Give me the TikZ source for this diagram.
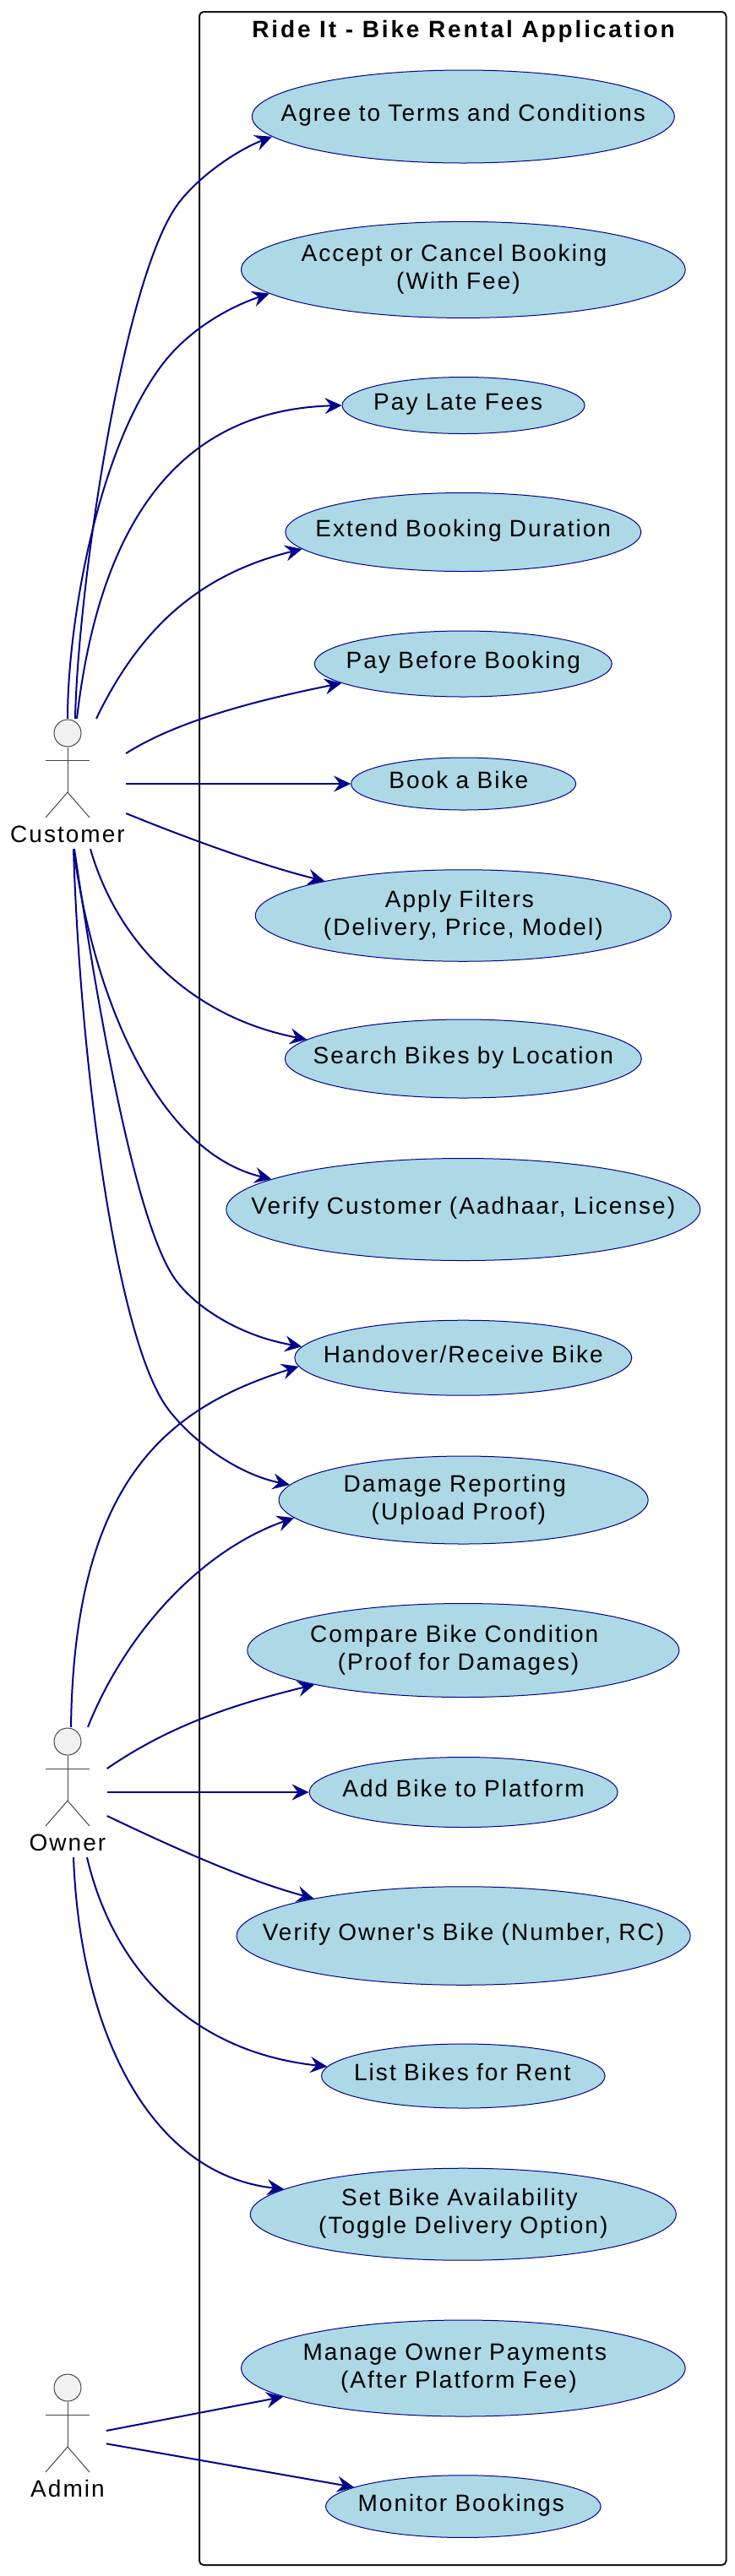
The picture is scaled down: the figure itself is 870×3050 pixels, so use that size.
\documentclass[tikz,border=0pt]{standalone}
\usepackage{fontspec}
\setmainfont[LetterSpace=7.3,Ligatures=TeXOff]{Liberation Sans}
\usepackage{xcolor}
\usetikzlibrary{arrows.meta,shapes.geometric,positioning,calc}
\definecolor{ucfill}{RGB}{173,216,230}
\definecolor{ucnavy}{RGB}{0,0,139}
\definecolor{ucframe}{RGB}{24,24,24}
\definecolor{ucactor}{RGB}{241,241,241}
\definecolor{ucstick}{RGB}{70,70,70}
\tikzset{
    usecase/.style={draw=ucnavy, fill=ucfill, ellipse, line width=1pt, inner sep=0pt,
        text height=0pt, text depth=0pt, text width=0pt},
    uclink/.style={-{Stealth[length=20pt,width=19pt,inset=7pt]}, ucnavy, line width=2pt},
    actorhead/.style={circle, draw=ucstick, fill=ucactor, line width=1pt, minimum size=32pt, inner sep=0pt},
    actorstick/.style={draw=ucstick, line width=1pt},
    actorbox/.style={minimum width=#1, minimum height=154pt, inner sep=0pt},
}
% one line of text in a use case: raise, x offset, text
\newcommand{\ucline}[3]{\makebox[0pt]{\raisebox{#1pt}{\kern#2pt #3\kern-#2pt}}}
% stick figure: name, label, head y, width of the box the links start from
\newcommand{\drawactor}[4]{
    \node[actorhead] (#1head) at (80,#3) {};
    \coordinate (#1hip) at (80,#3+70);
    \draw[actorstick] (#1head.south) -- (#1hip);
    \draw[actorstick] (54,#3+32) -- (106,#3+32);
    \draw[actorstick] (54,#3+100) -- (#1hip) -- (106,#3+100);
    \node[anchor=base, font=\fontsize{28}{33}\selectfont] (#1label) at (80,#3+129) {#2};
    \node[actorbox=#4] (#1) at (80,#3+60) {};
}
\begin{document}
\begin{tikzpicture}[x=1pt, y=-1pt, font=\fontsize{28}{33}\selectfont]
    \useasboundingbox (0,0) rectangle (870,3050);

    % System frame
    \node[draw=ucframe, line width=2pt, rounded corners=5pt, minimum width=623.5pt, minimum height=3023pt, inner sep=0pt] (system) at (547.75,1525.5) {};
    \node[anchor=base, font=\fontsize{28}{33}\selectfont\bfseries\addfontfeature{LetterSpace=10.2}] (title) at (548.5,44) {Ride It - Bike Rental Application};

    % Actors
    \drawactor{customer}{Customer}{868}{138pt}
    \drawactor{owner}{Owner}{2062}{93pt}
    \drawactor{admin}{Admin}{2827}{91pt}

    % Use cases
    \node[usecase, minimum width=500pt, minimum height=110pt] (agree) at (548.3,138) {\ucline{-5.5}{0}{Agree to Terms and Conditions}};
    \node[usecase, minimum width=525.6pt, minimum height=114pt] (accept) at (548.3,319.4) {\ucline{10}{-10.8}{Accept or Cancel Booking}\ucline{-23}{-5.8}{(With Fee)}};
    \node[usecase, minimum width=287pt, minimum height=67pt] (latefees) at (548.6,480) {\ucline{-5.5}{-6.4}{Pay Late Fees}};
    \node[usecase, minimum width=421pt, minimum height=93pt] (extend) at (548.3,630) {\ucline{-5.5}{0}{Extend Booking Duration}};
    \node[usecase, minimum width=352pt, minimum height=78pt] (paybefore) at (548.3,786) {\ucline{-5.5}{0}{Pay Before Booking}};
    \node[usecase, minimum width=266pt, minimum height=62pt] (book) at (548.6,928) {\ucline{-5.5}{-5.8}{Book a Bike}};
    \node[usecase, minimum width=492pt, minimum height=108.5pt] (filters) at (548.3,1084) {\ucline{10}{-4.4}{Apply Filters}\ucline{-23}{0}{(Delivery, Price, Model)}};
    \node[usecase, minimum width=422pt, minimum height=93pt] (search) at (548.3,1253.5) {\ucline{-5.5}{0}{Search Bikes by Location}};
    \node[usecase, minimum width=561pt, minimum height=121pt] (verifycustomer) at (548.3,1432) {\ucline{-5.5}{0}{Verify Customer (Aadhaar, License)}};
    \node[usecase, minimum width=399pt, minimum height=89pt] (handover) at (548.3,1607.7) {\ucline{-5.5}{0}{Handover/Receive Bike}};
    \node[usecase, minimum width=437pt, minimum height=104pt] (damage) at (548.6,1776) {\ucline{10}{-10.3}{Damage Reporting}\ucline{-23}{-5.8}{(Upload Proof)}};
    \node[usecase, minimum width=511pt, minimum height=111pt] (compare) at (548.3,1954) {\ucline{10}{-10.6}{Compare Bike Condition}\ucline{-23}{-5.8}{(Proof for Damages)}};
    \node[usecase, minimum width=365pt, minimum height=83pt] (addbike) at (548.6,2122) {\ucline{-5.5}{0}{Add Bike to Platform}};
    \node[usecase, minimum width=537pt, minimum height=116.5pt] (verifyowner) at (548.6,2292) {\ucline{-5.5}{0}{Verify Owner's Bike (Number, RC)}};
    \node[usecase, minimum width=335.6pt, minimum height=76pt] (listbikes) at (548.3,2458) {\ucline{-5.5}{-1}{List Bikes for Rent}};
    \node[usecase, minimum width=504pt, minimum height=109pt] (availability) at (548.3,2621.7) {\ucline{10}{-4.4}{Set Bike Availability}\ucline{-23}{0}{(Toggle Delivery Option)}};
    \node[usecase, minimum width=525.6pt, minimum height=114pt] (payments) at (548.3,2804) {\ucline{10}{-10}{Manage Owner Payments}\ucline{-23}{-5.5}{(After Platform Fee)}};
    \node[usecase, minimum width=325.6pt, minimum height=73.7pt] (monitor) at (548.3,2967.6) {\ucline{-5.5}{-2.5}{Monitor Bookings}};

    % Customer links
    \draw[uclink] ([xshift=9pt]customer.north) .. controls (92,700) and (145,330) .. (211,241) .. controls (235,209) and (280,178) .. (agree.186.4);
    \draw[uclink] (customer.north) .. controls (80,740) and (115,530) .. (194.4,428.6) .. controls (225,390) and (270,364) .. (accept.187.6);
    \draw[uclink] ([xshift=11pt]customer.north) .. controls (120,600) and (225,485) .. (latefees.west);
    \draw[uclink] ([xshift=34pt]customer.north) .. controls (165,745) and (235,680) .. (extend.186.6);
    \draw[uclink] ([yshift=36pt]customer.east) .. controls (215,850) and (320,826) .. (paybefore.189.9);
    \draw[uclink] (customer.east) -- (book.west);
    \draw[uclink] ([yshift=-35pt]customer.east) .. controls (215,990) and (310,1025) .. (filters.166.4);
    \draw[uclink] ([xshift=27pt]customer.south) .. controls (140,1120) and (230,1205) .. (search.173.9);
    \draw[uclink] ([xshift=7pt]customer.south) .. controls (112,1190) and (190,1365) .. (verifycustomer.171.1);
    \draw[uclink] ([xshift=8pt]customer.south) .. controls (115,1190) and (160,1450) .. (208,1515.6) .. controls (235,1552) and (290,1583) .. (handover.176.5);
    \draw[uclink] ([xshift=7pt]customer.south) .. controls (95,1260) and (138,1590) .. (200,1669.7) .. controls (228,1706) and (280,1745) .. (damage.175);

    % Owner links
    \draw[uclink] ([xshift=4pt]owner.north) .. controls (88,1745) and (205,1665) .. (handover.183.7);
    \draw[uclink] ([xshift=24pt]owner.north) .. controls (150,1930) and (240,1835) .. (damage.186.8);
    \draw[uclink] ([yshift=28pt]owner.east) .. controls (205,2040) and (285,2016) .. (compare.193.5);
    \draw[uclink] (owner.east) -- (addbike.west);
    \draw[uclink] ([yshift=-28pt]owner.east) .. controls (200,2185) and (290,2226) .. (verifyowner.166.5);
    \draw[uclink] ([xshift=23pt]owner.south) .. controls (135,2335) and (230,2430) .. (listbikes.176.8);
    \draw[uclink] ([xshift=7pt]owner.south) .. controls (95,2410) and (180,2575) .. (availability.172.7);

    % Admin links
    \draw[uclink] ([yshift=9pt]admin.east) -- (payments.189.6);
    \draw[uclink] ([yshift=-6.3pt]admin.east) -- (monitor.170.3);
\end{tikzpicture}
\end{document}
